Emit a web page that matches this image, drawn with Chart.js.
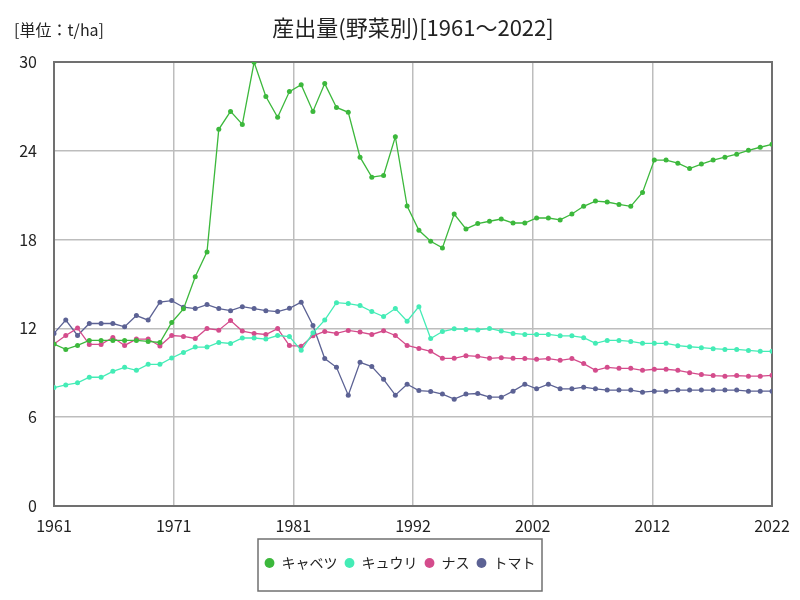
<!DOCTYPE html>
<html>
<head>
<meta charset="utf-8">
<script src="https://cdn.jsdelivr.net/npm/chart.js@4.4.1/dist/chart.umd.min.js"></script>
<style>
  html, body { margin: 0; padding: 0; background: #fff; }
  #wrap { width: 800px; height: 600px; }
</style>
</head>
<body>
<div id="wrap"><canvas id="vegChart" width="800" height="600"></canvas></div>
<script>
// Yield by vegetable, t/ha
const years = [1961, 1962, 1963, 1964, 1965, 1966, 1967, 1968, 1969, 1970,
    1971, 1972, 1973, 1974, 1975, 1976, 1977, 1978, 1979, 1980,
    1981, 1982, 1983, 1984, 1985, 1986, 1987, 1988, 1989, 1990,
    1991, 1992, 1993, 1994, 1995, 1996, 1997, 1998, 1999, 2000,
    2001, 2002, 2003, 2004, 2005, 2006, 2007, 2008, 2009, 2010,
    2011, 2012, 2013, 2014, 2015, 2016, 2017, 2018, 2019, 2020,
    2021, 2022];

const cabbage = [10.94, 10.58, 10.85, 11.19, 11.19, 11.19, 11.19, 11.19, 11.12, 11.05,
    12.4, 13.32, 15.49, 17.17, 25.45, 26.66, 25.78, 29.98, 27.67, 26.26,
    28.0, 28.47, 26.66, 28.54, 26.93, 26.6, 23.57, 22.22, 22.33, 24.95,
    20.27, 18.63, 17.89, 17.44, 19.73, 18.72, 19.08, 19.24, 19.39, 19.12,
    19.12, 19.46, 19.46, 19.33, 19.73, 20.25, 20.6, 20.54, 20.38, 20.25,
    21.19, 23.37, 23.37, 23.16, 22.8, 23.1, 23.37, 23.57, 23.77, 24.03,
    24.24, 24.44];

const cucumber = [8.0, 8.18, 8.32, 8.7, 8.7, 9.1, 9.37, 9.17, 9.57, 9.57,
    10.0, 10.38, 10.74, 10.74, 11.05, 10.98, 11.35, 11.35, 11.28, 11.52,
    11.45, 10.52, 11.7, 12.56, 13.74, 13.68, 13.54, 13.14, 12.8, 13.34,
    12.49, 13.47, 11.32, 11.79, 11.97, 11.93, 11.9, 12.0, 11.82, 11.66,
    11.59, 11.59, 11.59, 11.5, 11.5, 11.37, 10.99, 11.19, 11.19, 11.12,
    10.99, 10.99, 10.99, 10.83, 10.76, 10.7, 10.63, 10.58, 10.58, 10.51,
    10.45, 10.45];

const eggplant = [10.95, 11.52, 12.02, 10.92, 10.92, 11.39, 10.85, 11.28, 11.28, 10.81,
    11.52, 11.46, 11.32, 11.99, 11.88, 12.53, 11.82, 11.66, 11.59, 11.99,
    10.84, 10.8, 11.5, 11.79, 11.66, 11.86, 11.75, 11.59, 11.84, 11.52,
    10.85, 10.65, 10.45, 9.98, 9.98, 10.16, 10.11, 9.98, 10.02, 9.98,
    9.96, 9.91, 9.96, 9.84, 9.96, 9.62, 9.17, 9.37, 9.3, 9.3,
    9.17, 9.24, 9.24, 9.17, 9.01, 8.88, 8.81, 8.77, 8.81, 8.77,
    8.77, 8.83];

const tomato = [11.66, 12.56, 11.52, 12.33, 12.33, 12.33, 12.11, 12.87, 12.56, 13.77,
    13.88, 13.43, 13.34, 13.61, 13.34, 13.2, 13.47, 13.34, 13.2, 13.14,
    13.36, 13.77, 12.2, 9.96, 9.37, 7.49, 9.71, 9.42, 8.56, 7.49,
    8.23, 7.8, 7.74, 7.56, 7.22, 7.56, 7.6, 7.35, 7.35, 7.76,
    8.23, 7.92, 8.23, 7.92, 7.92, 8.03, 7.92, 7.83, 7.83, 7.83,
    7.69, 7.76, 7.76, 7.83, 7.83, 7.83, 7.83, 7.83, 7.83, 7.76,
    7.76, 7.76];

const seriesNames = ['キャベツ', 'キュウリ', 'ナス', 'トマト'];
const yTicks = [0, 6, 12, 18, 24, 30];
const xTickCount = 7; // 1961 .. 2022 split in 6 equal parts, labels rounded

const titleText = '産出量(野菜別)[1961～2022]';
const unitText = '[単位：t/ha]';

const FONT = '"Noto Sans CJK JP", "Noto Sans", sans-serif';
const colors = ['#3cb83c', '#44ecb6', '#d44c8c', '#5c6294'];

function toPoints(values) {
    return values.map((v, i) => ({ x: years[i], y: v }));
}

const allSeries = [cabbage, cucumber, eggplant, tomato];
const datasets = allSeries.map((values, i) => ({
    label: seriesNames[i],
    data: toPoints(values),
    borderColor: colors[i],
    backgroundColor: colors[i],
    borderWidth: 1.3,
    pointRadius: 2.5,
    pointHoverRadius: 2.5,
    pointBorderWidth: 0,
    pointStyle: 'circle',
    tension: 0
}));

// title, unit label, plot frame and legend box
const decorations = {
    id: 'decorations',
    beforeDraw(chart) {
        // legend is laid out over 0..772, move it to the page centre
        const lg = chart.legend;
        if (lg && !lg._shifted) {
            lg.left += 14;
            lg.right += 14;
            lg._shifted = true;
        }
    },
    beforeDatasetsDraw(chart) {
        const { ctx, chartArea: a } = chart;
        ctx.save();
        ctx.strokeStyle = '#707070';
        ctx.lineWidth = 2;
        ctx.strokeRect(a.left, a.top, a.right - a.left, a.bottom - a.top);
        ctx.restore();
    },
    afterDraw(chart) {
        const { ctx, chartArea: a } = chart;
        ctx.save();
        ctx.fillStyle = '#222';
        ctx.textBaseline = 'middle';
        ctx.textAlign = 'center';
        ctx.font = '22px ' + FONT;
        ctx.fillText(titleText, (a.left + a.right) / 2, 28);
        ctx.textAlign = 'left';
        ctx.font = '16px ' + FONT;
        ctx.fillText(unitText, 14, 30);

        const lg = chart.legend;
        const w = (lg.lineWidths && lg.lineWidths[0]) || 260;
        const cx = (lg.left + lg.right) / 2;
        const cy = lg.top + lg.height / 2;
        ctx.strokeStyle = '#707070';
        ctx.lineWidth = 1.5;
        ctx.strokeRect(Math.round(cx - w / 2 - 3), Math.round(cy - 26), Math.round(w + 6), 52);
        ctx.restore();
    }
};

new Chart(document.getElementById('vegChart').getContext('2d'), {
    type: 'line',
    data: { datasets: datasets },
    options: {
        responsive: false,
        animation: false,
        layout: { padding: { top: 62, right: 28, bottom: 20, left: 0 } },
        plugins: {
            title: { display: false },
            tooltip: { enabled: false },
            legend: {
                position: 'bottom',
                labels: {
                    usePointStyle: true,
                    boxWidth: 10,
                    boxHeight: 7,
                    padding: 7,
                    color: '#222',
                    font: { family: FONT, size: 14 }
                }
            }
        },
        scales: {
            x: {
                type: 'linear',
                min: years[0],
                max: years[years.length - 1],
                afterBuildTicks(scale) {
                    const span = scale.max - scale.min;
                    const ticks = [];
                    for (let i = 0; i < xTickCount; i++) {
                        ticks.push({ value: scale.min + span * i / (xTickCount - 1) });
                    }
                    scale.ticks = ticks;
                },
                afterFit(scale) { scale.height = 43; },
                grid: { color: '#bdbdbd', lineWidth: 1.5, drawTicks: false },
                border: { display: false },
                ticks: {
                    padding: 10,
                    maxRotation: 0,
                    autoSkip: false,
                    color: '#222',
                    font: { family: FONT, size: 16 },
                    callback: v => String(Math.round(v))
                }
            },
            y: {
                min: 0,
                max: 30,
                afterBuildTicks(scale) {
                    scale.ticks = yTicks.map(v => ({ value: v }));
                },
                afterFit(scale) { scale.width = 54; },
                grid: { color: '#bdbdbd', lineWidth: 1.5, drawTicks: false },
                border: { display: false },
                ticks: {
                    padding: 17,
                    color: '#222',
                    font: { family: FONT, size: 16 },
                    callback: v => String(v)
                }
            }
        }
    },
    plugins: [decorations]
});
</script>
</body>
</html>
